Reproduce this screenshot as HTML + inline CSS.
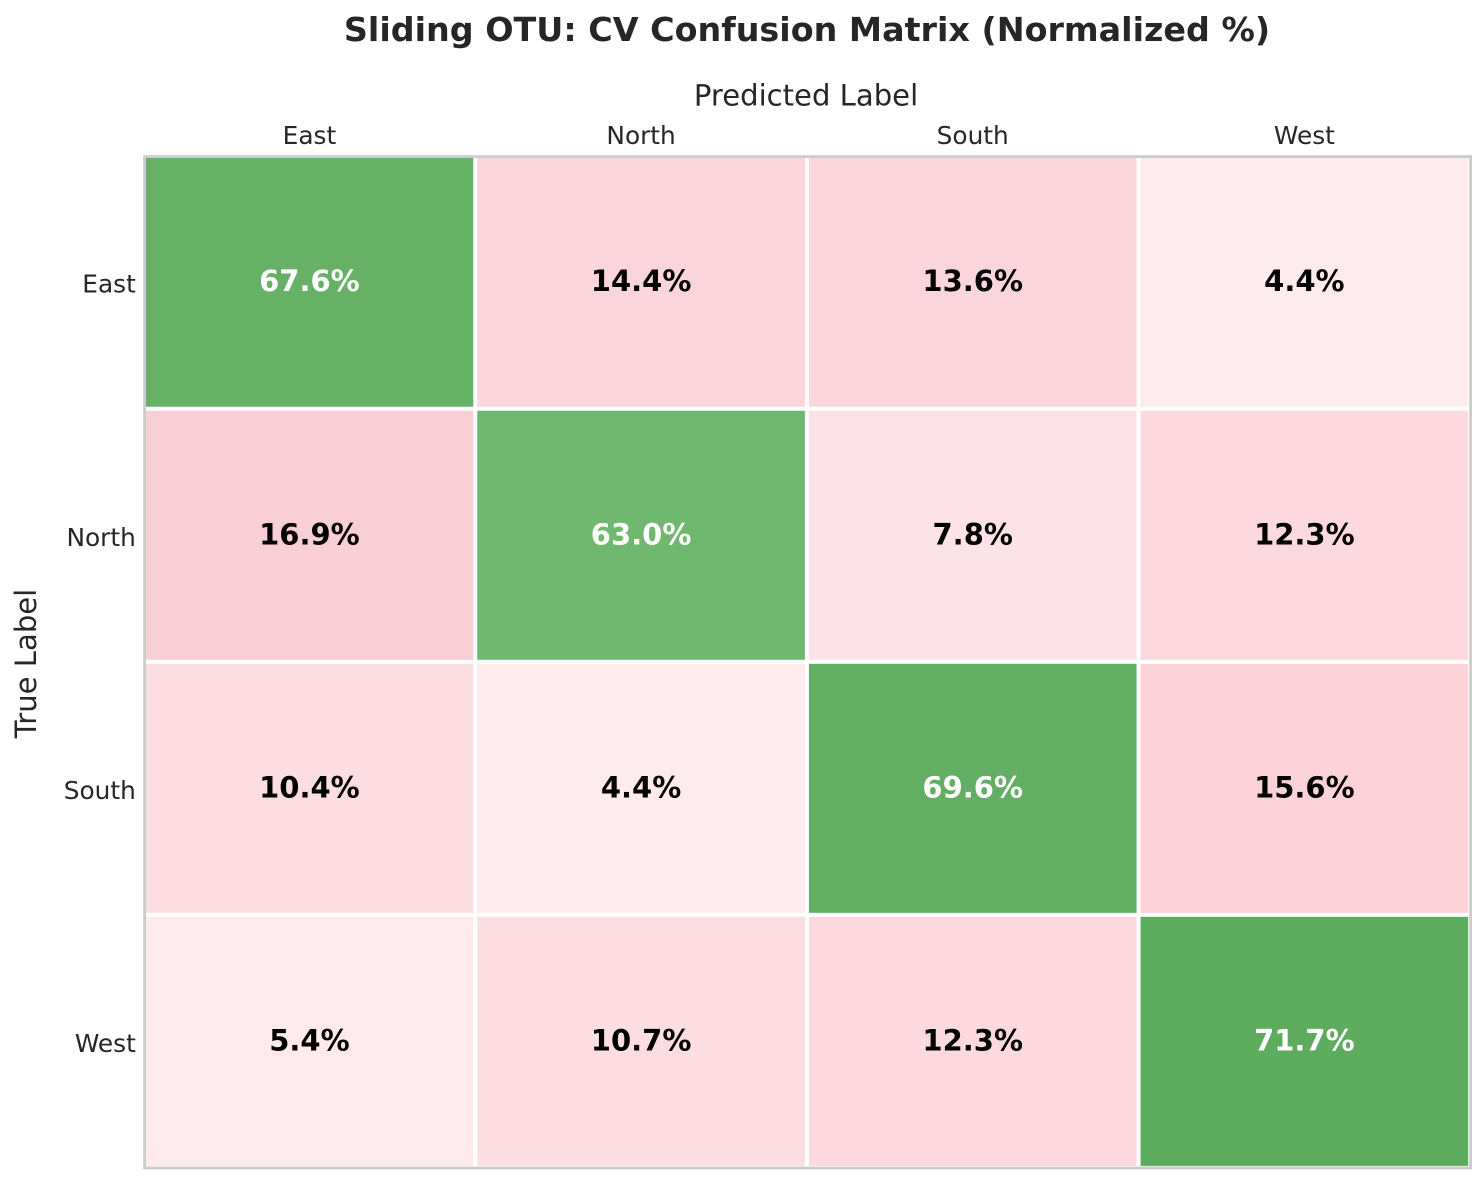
<!DOCTYPE html>
<html lang="en">
<head>
<meta charset="utf-8">
<title>Sliding OTU: CV Confusion Matrix (Normalized %)</title>
<style>
html,body{margin:0;padding:0;background:#fff;}
body{width:1484px;height:1183px;overflow:hidden;}
svg{display:block;}
text{font-family:"DejaVu Sans","Liberation Sans",sans-serif;}
</style>
</head>
<body>
<svg id="chart" xmlns="http://www.w3.org/2000/svg" width="1484" height="1183" viewBox="0 0 1484 1183">
  <rect x="0" y="0" width="1484" height="1183" fill="#ffffff"/>
  <text x="807" y="41" text-anchor="middle" font-size="33.35" font-weight="700" fill="#262626">Sliding OTU: CV Confusion Matrix (Normalized %)</text>
  <text x="806" y="105.5" text-anchor="middle" font-size="29.1" fill="#262626">Predicted Label</text>
  <text transform="translate(36,663.5) rotate(-90)" text-anchor="middle" font-size="29.1" fill="#262626">True Label</text>
  <g id="cells"></g>
  <g id="xticks"></g>
  <g id="yticks"></g>
  <rect x="144.6" y="156.6" width="1326" height="1011.4" fill="none" stroke="#cccccc" stroke-width="2.8"/>
</svg>
<script>
const categories = ['East', 'North', 'South', 'West'];
const rowEast = [67.6, 14.4, 13.6, 4.4];
const rowNorth = [16.9, 63.0, 7.8, 12.3];
const rowSouth = [10.4, 4.4, 69.6, 15.6];
const rowWest = [5.4, 10.7, 12.3, 71.7];
const matrix = [rowEast, rowNorth, rowSouth, rowWest];

const plotLeft = 143.6, plotRight = 1470.2, plotTop = 155.7, plotBottom = 1167.9;
const cellGap = 4;
const svgNS = 'http://www.w3.org/2000/svg';

function xScale(i) { return plotLeft + (plotRight - plotLeft) * i / categories.length; }
function yScale(i) { return plotTop + (plotBottom - plotTop) * i / categories.length; }

function mix(a, b, t) {
  const c = [0, 1, 2].map(function (k) { return Math.round(a[k] + (b[k] - a[k]) * t); });
  return 'rgb(' + c.join(',') + ')';
}
function colorFor(v, isDiagonal) {
  if (isDiagonal) {
    return mix([112, 183, 112], [93, 171, 93], (v - 63) / (71.7 - 63));
  }
  return mix([254, 235, 238], [249, 207, 214], Math.min(1, (v - 4.4) / (16.9 - 4.4)));
}

const cellsGroup = document.getElementById('cells');
const xGroup = document.getElementById('xticks');
const yGroup = document.getElementById('yticks');

matrix.forEach(function (row, r) {
  row.forEach(function (value, c) {
    const isDiagonal = r === c;
    const x0 = xScale(c), x1 = xScale(c + 1), y0 = yScale(r), y1 = yScale(r + 1);
    const rect = document.createElementNS(svgNS, 'rect');
    
    
    rect.setAttribute('x', x0 + cellGap / 2);
    rect.setAttribute('y', y0 + cellGap / 2);
    rect.setAttribute('width', x1 - x0 - cellGap);
    rect.setAttribute('height', y1 - y0 - cellGap);
    rect.setAttribute('fill', colorFor(value, isDiagonal));
    cellsGroup.appendChild(rect);

    const label = document.createElementNS(svgNS, 'text');
    
    
    label.setAttribute('x', (x0 + x1) / 2);
    label.setAttribute('y', (y0 + y1) / 2 + 9);
    label.setAttribute('text-anchor', 'middle');
    label.setAttribute('font-size', '29');
    label.setAttribute('font-weight', '700');
    label.setAttribute('fill', isDiagonal ? '#ffffff' : '#000000');
    label.textContent = value.toFixed(1) + '%';
    cellsGroup.appendChild(label);
  });
});

categories.forEach(function (name, i) {
  const xt = document.createElementNS(svgNS, 'text');
  
  
  xt.setAttribute('x', (xScale(i) + xScale(i + 1)) / 2);
  xt.setAttribute('y', 144);
  xt.setAttribute('text-anchor', 'middle');
  xt.setAttribute('font-size', '24.8');
  xt.setAttribute('fill', '#262626');
  xt.textContent = name;
  xGroup.appendChild(xt);

  const yt = document.createElementNS(svgNS, 'text');
  
  
  yt.setAttribute('x', 135.8);
  yt.setAttribute('y', (yScale(i) + yScale(i + 1)) / 2 + 10.5);
  yt.setAttribute('text-anchor', 'end');
  yt.setAttribute('font-size', '24.8');
  yt.setAttribute('fill', '#262626');
  yt.textContent = name;
  yGroup.appendChild(yt);
});
</script>
</body>
</html>
